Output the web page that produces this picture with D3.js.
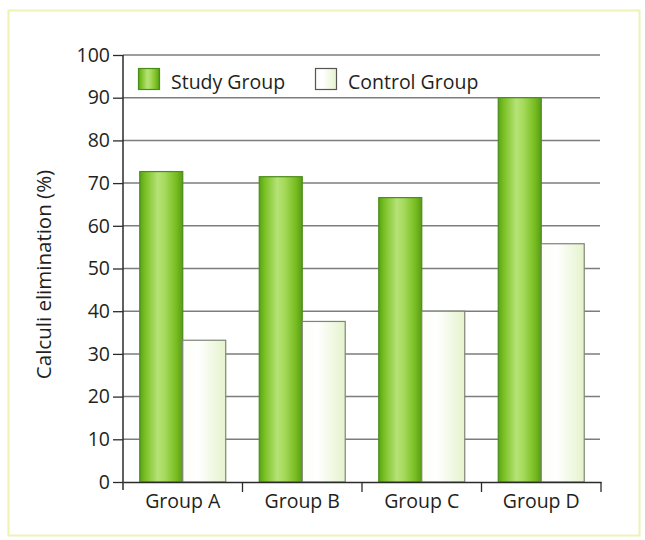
<!DOCTYPE html>
<html>
<head>
<meta charset="utf-8">
<script src="https://cdn.jsdelivr.net/npm/d3@7"></script>
<style>
  html, body { margin: 0; padding: 0; background: #ffffff; }
  svg { display: block; }
  text { font-family: "Open Sans", "DejaVu Sans", sans-serif; fill: #231f20; }
</style>
</head>
<body>
<svg id="chart" width="645" height="540"></svg>
<script>
const categories = ["Group A", "Group B", "Group C", "Group D"];
const seriesNames = ["Study Group", "Control Group"];
const studyValues = [72.7, 71.5, 66.6, 90.0];
const controlValues = [33.2, 37.6, 40.0, 55.8];
const yTicks = [0, 10, 20, 30, 40, 50, 60, 70, 80, 90, 100];

const svg = d3.select("#chart");

// outer pale frame
svg.append("rect")
  .attr("x", 8.5).attr("y", 10.5).attr("width", 631).attr("height", 525)
  .attr("fill", "none").attr("stroke", "#eef3b4").attr("stroke-width", 2);

const defs = svg.append("defs");
const gS = defs.append("linearGradient").attr("id", "gStudy").attr("x1", "0").attr("x2", "1").attr("y1", "0").attr("y2", "0");
[["0%", "#5aa317"], ["12%", "#78bf22"], ["42%", "#b6e277"], ["58%", "#a6da5c"], ["85%", "#77bd20"], ["100%", "#5a9c18"]]
  .forEach(([o, c]) => gS.append("stop").attr("offset", o).attr("stop-color", c));
const gC = defs.append("linearGradient").attr("id", "gControl").attr("x1", "0").attr("x2", "1").attr("y1", "0").attr("y2", "0");
[["0%", "#fbfdf6"], ["35%", "#ffffff"], ["100%", "#e5f3cc"]]
  .forEach(([o, c]) => gC.append("stop").attr("offset", o).attr("stop-color", c));

const plotLeft = 123, plotRight = 601, plotTop = 55, plotBottom = 482;

const x0 = d3.scaleBand().domain(categories).range([plotLeft, plotRight]).paddingInner(0).paddingOuter(0);
const x1 = d3.scaleBand().domain(seriesNames).range([0, x0.bandwidth()]).paddingInner(0).paddingOuter(0.39);
const y = d3.scaleLinear().domain([0, 100]).range([plotBottom, plotTop]);

// gridlines
svg.append("g").selectAll("line").data(yTicks.filter(d => d > 0)).join("line")
  .attr("x1", plotLeft).attr("x2", 600)
  .attr("y1", d => y(d)).attr("y2", d => y(d))
  .attr("stroke", "#7d7d7d").attr("stroke-width", 1.5);

// bars
const groups = svg.append("g").selectAll("g").data(categories).join("g")
  .attr("transform", d => `translate(${x0(d)},0)`);

groups.selectAll("rect")
  .data((d, i) => [
    { s: seriesNames[0], v: studyValues[i] },
    { s: seriesNames[1], v: controlValues[i] }
  ])
  .join("rect")
  .attr("x", d => x1(d.s))
  .attr("width", x1.bandwidth())
  .attr("y", d => y(d.v))
  .attr("height", d => y(0) - y(d.v))
  .attr("fill", d => d.s === seriesNames[0] ? "url(#gStudy)" : "url(#gControl)")
  .attr("stroke", d => d.s === seriesNames[0] ? "#4a8c1a" : "#7e8476")
  .attr("stroke-width", 1.2);

// y axis
const yAxis = d3.axisLeft(y).tickValues(yTicks).tickSize(10).tickSizeOuter(0).tickPadding(3);
const yg = svg.append("g").attr("transform", `translate(${plotLeft},0)`).call(yAxis);
yg.select(".domain").attr("stroke", "#2b2b2b").attr("stroke-width", 1.5)
  .attr("d", `M0,${plotTop}V${plotBottom + 8}`);
yg.selectAll(".tick line").attr("stroke", "#2b2b2b").attr("stroke-width", 1.3);
yg.selectAll(".tick text").attr("font-size", 19.5).attr("font-family", "Open Sans").attr("fill", "#231f20");

// x axis
const xAxis = d3.axisBottom(x0).tickSize(0).tickPadding(12).tickSizeOuter(0);
const xg = svg.append("g").attr("transform", `translate(0,${plotBottom})`).call(xAxis);
xg.select(".domain").attr("stroke", "#2b2b2b").attr("stroke-width", 1.5);
xg.selectAll(".tick text").attr("font-size", 19.5).attr("font-family", "Open Sans").attr("fill", "#231f20");
// boundary ticks
const bounds = categories.map(c => x0(c)).concat([x0(categories[categories.length - 1]) + x0.bandwidth()]);
xg.append("g").selectAll("line").data(bounds.slice(1)).join("line")
  .attr("x1", d => d).attr("x2", d => d).attr("y1", 0).attr("y2", 10)
  .attr("stroke", "#2b2b2b").attr("stroke-width", 1.3);

// y axis title
svg.append("text")
  .attr("transform", `translate(51,${(plotTop + plotBottom) / 2 + 6}) rotate(-90)`)
  .attr("text-anchor", "middle")
  .attr("font-size", 20.5)
  .text("Calculi elimination (%)");

// legend
const legendX = [138, 315];
const legend = svg.append("g").selectAll("g").data(seriesNames).join("g")
  .attr("transform", (d, i) => `translate(${legendX[i]},68)`);
legend.append("rect")
  .attr("x", 0.5).attr("y", 0.5).attr("width", 21).attr("height", 21)
  .attr("fill", (d, i) => i === 0 ? "url(#gStudy)" : "url(#gControl)")
  .attr("stroke", (d, i) => i === 0 ? "#4a8c1a" : "#555")
  .attr("stroke-width", 1.2);
legend.append("text")
  .attr("x", 33).attr("y", 21)
  .attr("font-size", 19.5)
  .text(d => d);
</script>
</body>
</html>
